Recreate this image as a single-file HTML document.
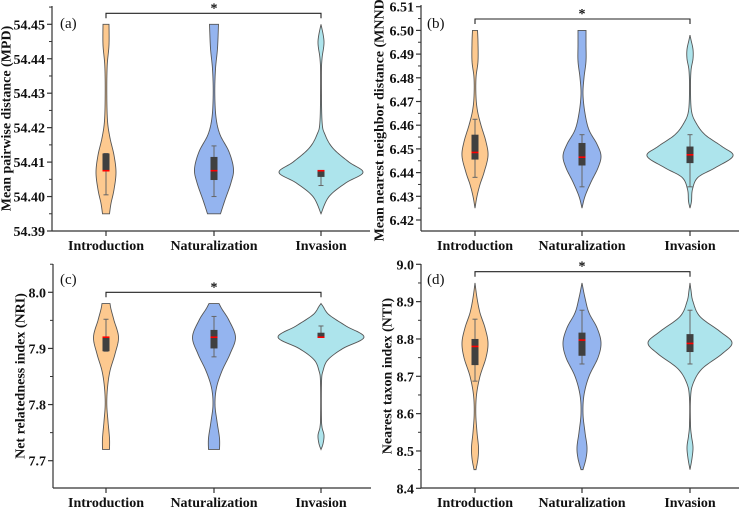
<!DOCTYPE html>
<html><head><meta charset="utf-8">
<style>
html,body{margin:0;padding:0;background:#fff;}
svg{display:block;font-family:"Liberation Serif",serif;}
</style></head>
<body>
<svg id="fig" width="745" height="508" viewBox="0 0 745 508"></svg>
<script>
const categories = ["Introduction","Naturalization","Invasion"];
const colors = ["#fdc98f","#94b4ef","#ade4ec"];

// Density knots per violin: [value, half-width]
const densA = [
 [[54.395,3.5],[54.398,5],[54.402,8],[54.407,10],[54.412,8],[54.417,4],[54.422,1.5],[54.43,0.8],[54.438,1.2],[54.444,3],[54.45,3]],
 [[54.395,6.5],[54.399,11],[54.404,17],[54.408,19.5],[54.413,15],[54.418,6],[54.423,2],[54.43,0.8],[54.437,1.5],[54.443,3.5],[54.45,4.5]],
 [[54.395,0],[54.4,8],[54.404,25],[54.407,42],[54.41,28],[54.414,12],[54.418,4],[54.422,1],[54.435,0.4],[54.44,1],[54.445,3],[54.45,0]]
];
const densB = [
 [[6.425,0],[6.43,2],[6.435,5],[6.44,9],[6.447,13],[6.453,11],[6.46,6],[6.466,2.5],[6.472,1],[6.48,1],[6.487,3],[6.495,3],[6.5,2.5]],
 [[6.425,0],[6.43,3],[6.436,9],[6.442,16],[6.447,19],[6.452,15],[6.458,7],[6.465,3],[6.473,1],[6.48,2],[6.487,4],[6.494,4],[6.5,4]],
 [[6.425,0],[6.428,1.5],[6.433,2.5],[6.438,8],[6.442,25],[6.447,43],[6.451,32],[6.456,15],[6.461,6],[6.466,1.5],[6.475,0.5],[6.483,1],[6.488,3],[6.492,3],[6.496,1],[6.498,0]]
];
const densC = [
 [[7.72,3.5],[7.74,3.5],[7.77,2],[7.8,0.8],[7.83,1.5],[7.86,4],[7.89,9],[7.92,12.5],[7.95,8],[7.97,5],[7.98,4]],
 [[7.72,5.5],[7.74,5.5],[7.77,3],[7.8,1],[7.83,2.5],[7.86,8],[7.89,16],[7.92,21.5],[7.95,15],[7.97,8],[7.98,5]],
 [[7.72,0],[7.73,2],[7.745,3],[7.76,1],[7.78,0.4],[7.84,0.5],[7.86,2],[7.88,7],[7.9,22],[7.92,43],[7.94,25],[7.96,8],[7.975,2],[7.98,0]]
];
const densD = [
 [[8.45,1],[8.48,3],[8.51,3.5],[8.55,2],[8.6,0.8],[8.65,1.5],[8.7,5],[8.75,11],[8.79,13],[8.83,10],[8.87,5],[8.91,2],[8.95,0]],
 [[8.45,1],[8.48,4],[8.51,5],[8.55,3],[8.6,1],[8.65,2],[8.7,7],[8.75,16],[8.79,19],[8.83,15],[8.87,7],[8.91,3],[8.95,0]],
 [[8.45,0],[8.48,2],[8.51,3],[8.54,1.5],[8.57,0.5],[8.64,0.5],[8.68,3],[8.72,12],[8.76,32],[8.79,42],[8.82,30],[8.86,10],[8.9,3],[8.93,1],[8.95,0]]
];
// Box stats: [q1, q3, median, whiskerLow, whiskerHigh]
const boxA = [[54.4075,54.4125,54.4075,54.4005,54.4125],[54.4048,54.4115,54.4075,54.400,54.4147],[54.4057,54.4075,54.4075,54.4032,54.4075]];
const boxB = [[6.4455,6.456,6.4485,6.438,6.4625],[6.443,6.4525,6.4465,6.434,6.456],[6.444,6.451,6.4475,6.434,6.456]];
const boxC = [[7.895,7.92,7.92,7.895,7.952],[7.90,7.933,7.92,7.885,7.957],[7.92,7.928,7.92,7.92,7.94]];
const boxD = [[8.73,8.80,8.78,8.687,8.853],[8.755,8.817,8.797,8.733,8.877],[8.765,8.813,8.788,8.733,8.877]];
const ticksA = ["54.39","54.40","54.41","54.42","54.43","54.44","54.45"];
const ticksB = ["6.42","6.43","6.44","6.45","6.46","6.47","6.48","6.49","6.50","6.51"];
const ticksC = ["7.7","7.8","7.9","8.0"];
const ticksD = ["8.4","8.5","8.6","8.7","8.8","8.9","9.0"];

const NS="http://www.w3.org/2000/svg";
const svg=document.getElementById('fig');
function mk(tag,attrs,parent,txt){const e=document.createElementNS(NS,tag);for(const k in attrs)e.setAttribute(k,attrs[k]);if(txt!==undefined)e.textContent=txt;(parent||svg).appendChild(e);return e;}

const panels=[
 {id:'a',ax:52,bottom:231,top:6,v0:54.39,v1:54.45,p0:231,p1:24.3,cx:[106,214,321],ticks:ticksA,dens:densA,box:boxA,title:"Mean pairwise distance (MPD)",titleX:7,lab:[60,23],brY:13.3},
 {id:'b',ax:421,bottom:231,top:5,v0:6.42,v1:6.51,p0:220,p1:6.7,cx:[475,582,690],ticks:ticksB,dens:densB,box:boxB,title:"Mean nearest neighbor distance (MNND)",titleX:380,lab:[427,23],brY:19},
 {id:'c',ax:53,bottom:488,top:264,v0:7.7,v1:8.0,p0:460.7,p1:292.3,cx:[106,214,321],ticks:ticksC,dens:densC,box:boxC,title:"Net relatedness index (NRI)",titleX:21,lab:[60,279],brY:292.3},
 {id:'d',ax:421,bottom:488,top:264,v0:8.4,v1:9.0,p0:488.3,p1:264.3,cx:[475,582,690],ticks:ticksD,dens:densD,box:boxD,title:"Nearest taxon index (NTI)",titleX:388,lab:[427,279],brY:271.7}
];

function smoothPts(pts){
  const out=[];
  for(let i=0;i<pts.length-1;i++){
    const p0=pts[Math.max(0,i-1)],p1=pts[i],p2=pts[i+1],p3=pts[Math.min(pts.length-1,i+2)];
    for(let t=0;t<1;t+=0.1){
      const t2=t*t,t3=t2*t;
      const f=(a,b,c,d)=>0.5*((2*b)+(-a+c)*t+(2*a-5*b+4*c-d)*t2+(-a+3*b-3*c+d)*t3);
      out.push([f(p0[0],p1[0],p2[0],p3[0]),Math.max(0,f(p0[1],p1[1],p2[1],p3[1]))]);
    }
  }
  out.push(pts[pts.length-1]);return out;
}

panels.forEach(P=>{
  const g=mk('g',{},svg);
  
  
  const y=v=>P.p0+(v-P.v0)*(P.p1-P.p0)/(P.v1-P.v0);
  const axY=mk('line',{x1:P.ax,y1:P.top,x2:P.ax,y2:P.bottom,stroke:'#333','stroke-width':1.2},g);
  
  const axX=mk('line',{x1:P.ax,y1:P.bottom,x2:P.ax+318,y2:P.bottom,stroke:'#333','stroke-width':1.2},g);
  
  const n=P.ticks.length,step=(P.v1-P.v0)/(n-1);
  P.ticks.forEach((t,i)=>{
    const v=P.v0+i*step,yy=y(v);
    mk('line',{x1:P.ax-5,y1:yy,x2:P.ax,y2:yy,stroke:'#333','stroke-width':1.2},g);
    const mv=v+step/2,my=y(mv);
    if(my>=P.top) mk('line',{x1:P.ax-3,y1:my,x2:P.ax,y2:my,stroke:'#333','stroke-width':1},g);
    const tl=mk('text',{x:P.ax-7,y:yy+5,'text-anchor':'end','font-size':14,'font-weight':'bold',fill:'#111'},g,t);
    
  });
  const midY=(P.top+P.bottom)/2;
  const yt=mk('text',{x:P.titleX,y:midY,transform:`rotate(-90 ${P.titleX} ${midY})`,'text-anchor':'middle','dominant-baseline':'central','font-size':14,'font-weight':'bold',fill:'#111'},g,P.title);
  
  const pl=mk('text',{x:P.lab[0],y:P.lab[1]+5,'font-size':15,fill:'#111'},g,'('+P.id+')');
  
  const br=mk('path',{d:`M${P.cx[0]},${P.brY+5}V${P.brY}H${P.cx[2]}V${P.brY+5}`,fill:'none',stroke:'#222','stroke-width':1.1},g);
  
  const st=mk('text',{x:P.cx[1],y:P.brY-1,'text-anchor':'middle','font-size':14,'font-weight':'bold',fill:'#111'},g,'*');
  
  categories.forEach((c,i)=>{
    const cx=P.cx[i];
    mk('line',{x1:cx,y1:P.bottom,x2:cx,y2:P.bottom+5,stroke:'#333','stroke-width':1.2},g);
    const xl=mk('text',{x:cx,y:P.bottom+19,'text-anchor':'middle','font-size':14,'font-weight':'bold',fill:'#111'},g,c);
    
    const pts=smoothPts(P.dens[i]);
    let d='';
    pts.forEach((p,k)=>{d+=(k?'L':'M')+(cx+p[1]).toFixed(2)+','+y(p[0]).toFixed(2);});
    for(let k=pts.length-1;k>=0;k--){d+='L'+(cx-pts[k][1]).toFixed(2)+','+y(pts[k][0]).toFixed(2);}
    d+='Z';
    const vp=mk('path',{d:d,fill:colors[i],stroke:'#555','stroke-width':0.9},g);
    
    const b=P.box[i];
    const wk=mk('line',{x1:cx,y1:y(b[3]),x2:cx,y2:y(b[4]),stroke:'#666','stroke-width':1},g);
    
    mk('line',{x1:cx-2.5,y1:y(b[3]),x2:cx+2.5,y2:y(b[3]),stroke:'#666','stroke-width':1},g);
    mk('line',{x1:cx-2.5,y1:y(b[4]),x2:cx+2.5,y2:y(b[4]),stroke:'#666','stroke-width':1},g);
    const bx=mk('rect',{x:cx-3.5,y:y(b[1]),width:7,height:Math.max(1,y(b[0])-y(b[1])),fill:'#404040'},g);
    
    const md=mk('line',{x1:cx-3.5,y1:y(b[2]),x2:cx+3.5,y2:y(b[2]),stroke:'#ff0000','stroke-width':1.6},g);
    
  });
});
</script>
</body></html>
